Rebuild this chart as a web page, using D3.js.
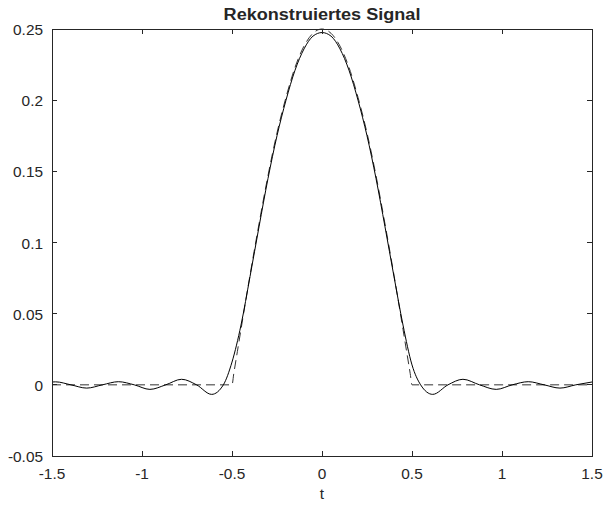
<!DOCTYPE html>
<html>
<head>
<meta charset="utf-8">
<script src="https://cdn.jsdelivr.net/npm/d3@7"></script>
<style>
  body { margin: 0; background: #fff; }
  svg { display: block; }
  text { font-family: "Liberation Sans", Arial, Helvetica, sans-serif; fill: #262626; }
</style>
</head>
<body>
<svg id="chart" width="605" height="509"></svg>
<script>
// ---- Data ----
const titleText = "Rekonstruiertes Signal";
const xLabel = "t";
const xTicks = [-1.5, -1, -0.5, 0, 0.5, 1, 1.5];
const yTicks = [-0.05, 0, 0.05, 0.1, 0.15, 0.2, 0.25];

// reconstructed signal (solid)
const recT = [-1.5, -1.48, -1.395, -1.307, -1.22, -1.131, -1.043, -0.956, -0.868, -0.78, -0.697, -0.613, -0.548,
  -0.5, -0.45, -0.4, -0.35, -0.3, -0.25, -0.2, -0.15, -0.1, -0.05, 0,
  0.05, 0.1, 0.15, 0.2, 0.25, 0.3, 0.35, 0.4, 0.45, 0.5,
  0.548, 0.615, 0.7, 0.783, 0.875, 0.968, 1.057, 1.146, 1.234, 1.322, 1.41, 1.5];
const recY = [0.0020, 0.0021, 0.0, -0.0023, 0.0, 0.0022, 0.0, -0.0032, 0.0, 0.0039, 0.0, -0.0067, 0.0,
  0.016, 0.042, 0.076, 0.111, 0.145, 0.175, 0.200, 0.221, 0.236, 0.245, 0.2475,
  0.245, 0.236, 0.221, 0.200, 0.175, 0.145, 0.111, 0.076, 0.042, 0.014,
  0.0, -0.0067, 0.0, 0.0039, 0.0, -0.0032, 0.0, 0.0022, 0.0, -0.0023, 0.0, 0.0020];

// original signal (dashed)
const origT = [-1.5, -0.5, -0.49, -0.47, -0.45, -0.4, -0.35, -0.3, -0.25, -0.2, -0.15, -0.1, -0.05, 0,
  0.05, 0.1, 0.15, 0.2, 0.25, 0.3, 0.35, 0.4, 0.45, 0.47, 0.49, 0.5, 1.5];
const origY = [0, 0, 0.008, 0.0235, 0.039, 0.077, 0.113, 0.147, 0.177, 0.202, 0.223, 0.238, 0.247, 0.25,
  0.247, 0.238, 0.223, 0.202, 0.177, 0.147, 0.113, 0.077, 0.039, 0.0235, 0.008, 0, 0];

// ---- Layout ----
const L = 52, R = 592, T = 29, B = 456;
const svg = d3.select("#chart");
const x = d3.scaleLinear().domain([-1.5, 1.5]).range([L, R]);
const y = d3.scaleLinear().domain([-0.05, 0.25]).range([B, T]);
const axisColor = "#262626";
const tickLen = 5;
const sx = 1.1;

const fmt = v => {
  const s = d3.format("~g")(+v.toFixed(4));
  return s.replace("−", "-");
};

// curves
const line = d3.line().x(d => x(d[0])).y(d => y(d[1])).curve(d3.curveMonotoneX);
svg.append("path")
  .attr("d", line(origT.map((t, i) => [t, origY[i]])))
  .attr("fill", "none").attr("stroke", "#333").attr("stroke-width", 1)
  .attr("stroke-dasharray", "9,5");
svg.append("path")
  .attr("d", line(recT.map((t, i) => [t, recY[i]])))
  .attr("fill", "none").attr("stroke", "#000").attr("stroke-width", 1);

// box
const g = svg.append("g").attr("shape-rendering", "crispEdges");
g.append("rect").attr("x", L).attr("y", T).attr("width", R - L).attr("height", B - T)
  .attr("fill", "none").attr("stroke", axisColor).attr("stroke-width", 1);

// ticks (inward, mirrored)
xTicks.forEach(v => {
  g.append("line").attr("x1", x(v)).attr("x2", x(v)).attr("y1", B).attr("y2", B - tickLen).attr("stroke", axisColor);
  g.append("line").attr("x1", x(v)).attr("x2", x(v)).attr("y1", T).attr("y2", T + tickLen).attr("stroke", axisColor);
  svg.append("text").attr("transform", `translate(${x(v)},479) scale(${sx},1)`)
    .attr("text-anchor", "middle").attr("font-size", 14).text(fmt(v));
});
yTicks.forEach(v => {
  g.append("line").attr("x1", L).attr("x2", L + tickLen).attr("y1", y(v)).attr("y2", y(v)).attr("stroke", axisColor);
  g.append("line").attr("x1", R).attr("x2", R - tickLen).attr("y1", y(v)).attr("y2", y(v)).attr("stroke", axisColor);
  svg.append("text").attr("transform", `translate(43,${y(v) + 6}) scale(${sx},1)`)
    .attr("text-anchor", "end").attr("font-size", 14).text(fmt(v));
});

// labels
svg.append("text").attr("transform", `translate(${(L + R) / 2},499) scale(${sx},1)`)
  .attr("text-anchor", "middle").attr("font-size", 14).text(xLabel);
svg.append("text").attr("transform", `translate(${(L + R) / 2},20) scale(1.13,1)`)
  .attr("text-anchor", "middle").attr("font-size", 16).attr("font-weight", "bold").text(titleText);
</script>
</body>
</html>
